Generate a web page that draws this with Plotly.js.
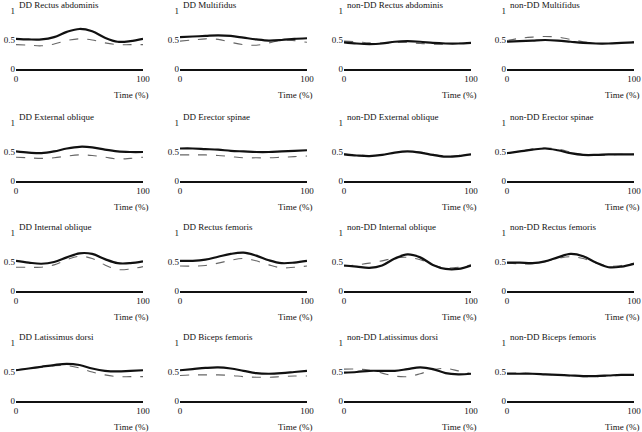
<!DOCTYPE html>
<html>
<head>
<meta charset="utf-8">
<script src="https://cdn.plot.ly/plotly-3.0.1.min.js"></script>
<style>
html,body{margin:0;padding:0;background:#fff;}
#chart{width:642px;height:432px;}
</style>
</head>
<body>
<div id="chart"></div>
<script>
// ---- Data (normalized EMG vs. time %) ----
const timePct = [0, 10, 20, 30, 40, 50, 60, 70, 80, 90, 100];

const panelTitles = [
  "DD Rectus abdominis", "DD Multifidus", "non-DD Rectus abdominis", "non-DD Multifidus",
  "DD External oblique", "DD Erector spinae", "non-DD External oblique", "non-DD Erector spinae",
  "DD Internal oblique", "DD Rectus femoris", "non-DD Internal oblique", "non-DD Rectus femoris",
  "DD Latissimus dorsi", "DD Biceps femoris", "non-DD Latissimus dorsi", "non-DD Biceps femoris"
];

const xTickVals = [0, 100];
const xTickText = ["0", "100"];
const yTickVals = [0, 0.5, 1];
const yTickText = ["0", "0.5", "1"];
const xAxisLabel = "Time (%)";

// solid = thick black curve, dashed = thin grey dashed curve
const ddRectusAbdominisSolid   = [0.52, 0.51, 0.51, 0.55, 0.64, 0.69, 0.65, 0.54, 0.47, 0.48, 0.52];
const ddRectusAbdominisDashed  = [0.42, 0.41, 0.40, 0.43, 0.49, 0.52, 0.50, 0.45, 0.42, 0.42, 0.42];
const ddMultifidusSolid        = [0.55, 0.56, 0.57, 0.58, 0.57, 0.54, 0.51, 0.49, 0.50, 0.52, 0.53];
const ddMultifidusDashed       = [0.48, 0.50, 0.52, 0.51, 0.46, 0.42, 0.41, 0.45, 0.50, 0.49, 0.46];
const ndRectusAbdominisSolid   = [0.46, 0.44, 0.43, 0.44, 0.47, 0.48, 0.47, 0.45, 0.44, 0.44, 0.45];
const ndRectusAbdominisDashed  = [0.48, 0.47, 0.45, 0.45, 0.46, 0.46, 0.44, 0.43, 0.43, 0.44, 0.45];
const ndMultifidusSolid        = [0.47, 0.48, 0.49, 0.50, 0.49, 0.47, 0.45, 0.44, 0.44, 0.45, 0.46];
const ndMultifidusDashed       = [0.49, 0.53, 0.55, 0.56, 0.55, 0.51, 0.47, 0.44, 0.44, 0.45, 0.47];

const ddExtObliqueSolid        = [0.51, 0.49, 0.48, 0.51, 0.56, 0.59, 0.58, 0.54, 0.51, 0.50, 0.50];
const ddExtObliqueDashed       = [0.41, 0.40, 0.39, 0.40, 0.43, 0.45, 0.44, 0.41, 0.38, 0.39, 0.41];
const ddErectorSpinaeSolid     = [0.56, 0.56, 0.55, 0.54, 0.52, 0.51, 0.50, 0.50, 0.51, 0.52, 0.53];
const ddErectorSpinaeDashed    = [0.45, 0.45, 0.45, 0.44, 0.42, 0.40, 0.40, 0.40, 0.41, 0.42, 0.43];
const ndExtObliqueSolid        = [0.46, 0.44, 0.43, 0.45, 0.49, 0.51, 0.49, 0.45, 0.42, 0.43, 0.46];
const ndExtObliqueDashed       = [0.47, 0.45, 0.44, 0.45, 0.49, 0.51, 0.50, 0.46, 0.43, 0.44, 0.46];
const ndErectorSpinaeSolid     = [0.48, 0.51, 0.54, 0.56, 0.53, 0.48, 0.45, 0.45, 0.46, 0.46, 0.46];
const ndErectorSpinaeDashed    = [0.48, 0.51, 0.55, 0.57, 0.55, 0.50, 0.45, 0.44, 0.45, 0.46, 0.46];

const ddIntObliqueSolid        = [0.52, 0.49, 0.47, 0.50, 0.58, 0.65, 0.64, 0.55, 0.48, 0.48, 0.51];
const ddIntObliqueDashed       = [0.41, 0.41, 0.41, 0.45, 0.54, 0.60, 0.56, 0.45, 0.37, 0.38, 0.42];
const ddRectusFemorisSolid     = [0.52, 0.52, 0.54, 0.59, 0.64, 0.66, 0.61, 0.53, 0.48, 0.49, 0.52];
const ddRectusFemorisDashed    = [0.43, 0.43, 0.44, 0.48, 0.53, 0.56, 0.52, 0.45, 0.40, 0.41, 0.43];
const ndIntObliqueSolid        = [0.44, 0.42, 0.40, 0.44, 0.56, 0.63, 0.58, 0.45, 0.38, 0.38, 0.44];
const ndIntObliqueDashed       = [0.43, 0.45, 0.48, 0.52, 0.57, 0.58, 0.54, 0.45, 0.40, 0.41, 0.45];
const ndRectusFemorisSolid     = [0.49, 0.49, 0.48, 0.51, 0.58, 0.64, 0.60, 0.49, 0.41, 0.42, 0.47];
const ndRectusFemorisDashed    = [0.48, 0.47, 0.47, 0.51, 0.56, 0.59, 0.56, 0.48, 0.43, 0.44, 0.48];

const ddLatDorsiSolid          = [0.53, 0.56, 0.59, 0.62, 0.64, 0.62, 0.56, 0.52, 0.51, 0.52, 0.53];
const ddLatDorsiDashed         = [0.54, 0.56, 0.58, 0.61, 0.61, 0.57, 0.50, 0.45, 0.42, 0.42, 0.42];
const ddBicepsFemorisSolid     = [0.53, 0.55, 0.57, 0.58, 0.56, 0.52, 0.48, 0.47, 0.48, 0.50, 0.52];
const ddBicepsFemorisDashed    = [0.44, 0.45, 0.45, 0.45, 0.44, 0.42, 0.41, 0.41, 0.42, 0.43, 0.43];
const ndLatDorsiSolid          = [0.49, 0.50, 0.52, 0.52, 0.52, 0.55, 0.58, 0.55, 0.48, 0.46, 0.47];
const ndLatDorsiDashed         = [0.55, 0.55, 0.53, 0.48, 0.43, 0.42, 0.47, 0.54, 0.56, 0.52, 0.47];
const ndBicepsFemorisSolid     = [0.47, 0.47, 0.47, 0.46, 0.45, 0.44, 0.43, 0.43, 0.44, 0.45, 0.45];
const ndBicepsFemorisDashed    = [0.48, 0.48, 0.47, 0.46, 0.45, 0.43, 0.42, 0.42, 0.43, 0.44, 0.45];

const solidSeries = [
  ddRectusAbdominisSolid, ddMultifidusSolid, ndRectusAbdominisSolid, ndMultifidusSolid,
  ddExtObliqueSolid, ddErectorSpinaeSolid, ndExtObliqueSolid, ndErectorSpinaeSolid,
  ddIntObliqueSolid, ddRectusFemorisSolid, ndIntObliqueSolid, ndRectusFemorisSolid,
  ddLatDorsiSolid, ddBicepsFemorisSolid, ndLatDorsiSolid, ndBicepsFemorisSolid
];
const dashedSeries = [
  ddRectusAbdominisDashed, ddMultifidusDashed, ndRectusAbdominisDashed, ndMultifidusDashed,
  ddExtObliqueDashed, ddErectorSpinaeDashed, ndExtObliqueDashed, ndErectorSpinaeDashed,
  ddIntObliqueDashed, ddRectusFemorisDashed, ndIntObliqueDashed, ndRectusFemorisDashed,
  ddLatDorsiDashed, ddBicepsFemorisDashed, ndLatDorsiDashed, ndBicepsFemorisDashed
];

// ---- Layout geometry (pixels) ----
const W = 642, H = 432;
const colLeft = [16, 180, 344, 507];
const plotW = 127;
const rowZero = [69, 181, 291, 401];
const plotH = 58;
const FONT = "Liberation Serif, Times New Roman, serif";
const titleSize = 9;
const tickSize = 9;

const traces = [];
const layout = {
  width: W, height: H,
  margin: {l: 0, r: 0, t: 0, b: 0},
  paper_bgcolor: "#ffffff",
  plot_bgcolor: "rgba(0,0,0,0)",
  showlegend: false,
  font: {family: FONT, size: tickSize, color: "#111"},
  annotations: []
};

for (let i = 0; i < 16; i++) {
  const r = Math.floor(i / 4), c = i % 4;
  const n = i + 1;
  const xa = n === 1 ? "x" : "x" + n;
  const ya = n === 1 ? "y" : "y" + n;
  const xKey = n === 1 ? "xaxis" : "xaxis" + n;
  const yKey = n === 1 ? "yaxis" : "yaxis" + n;
  const x0 = colLeft[c] / W, x1 = (colLeft[c] + plotW) / W;
  const y0 = (H - rowZero[r]) / H, y1 = (H - (rowZero[r] - plotH)) / H;

  traces.push({
    x: timePct, y: dashedSeries[i], xaxis: xa, yaxis: ya, type: "scatter", mode: "lines",
    line: {color: "#666", width: 1.1, dash: "dash", shape: "spline", smoothing: 1},
    hoverinfo: "skip"
  });
  traces.push({
    x: timePct, y: solidSeries[i], xaxis: xa, yaxis: ya, type: "scatter", mode: "lines",
    line: {color: "#111", width: 2.2, shape: "spline", smoothing: 1},
    hoverinfo: "skip"
  });

  layout[xKey] = {
    domain: [x0, x1], anchor: ya, range: [0, 100],
    showgrid: false, zeroline: false, showline: true, linewidth: 2.2, linecolor: "#111",
    ticks: "", tickvals: xTickVals, ticktext: xTickText,
    tickfont: {family: FONT, size: tickSize, color: "#111"}, fixedrange: true
  };
  layout[yKey] = {
    domain: [y0, y1], anchor: xa, range: [0, 1],
    showgrid: false, zeroline: false, showline: false,
    ticks: "", tickvals: yTickVals, ticktext: yTickText,
    tickfont: {family: FONT, size: tickSize, color: "#111"}, fixedrange: true
  };

  layout.annotations.push({
    text: panelTitles[i], xref: "paper", yref: "paper",
    x: (colLeft[c] + 1) / W, y: (H - (rowZero[r] - 64)) / H,
    xanchor: "left", yanchor: "middle", showarrow: false,
    font: {family: FONT, size: titleSize, color: "#111"}
  });
  layout.annotations.push({
    text: xAxisLabel, xref: "paper", yref: "paper",
    x: (colLeft[c] + plotW + 7) / W, y: (H - (rowZero[r] + 26)) / H,
    xanchor: "right", yanchor: "middle", showarrow: false,
    font: {family: FONT, size: tickSize, color: "#111"}
  });
}

Plotly.newPlot("chart", traces, layout, {staticPlot: true, displayModeBar: false});
</script>
</body>
</html>
